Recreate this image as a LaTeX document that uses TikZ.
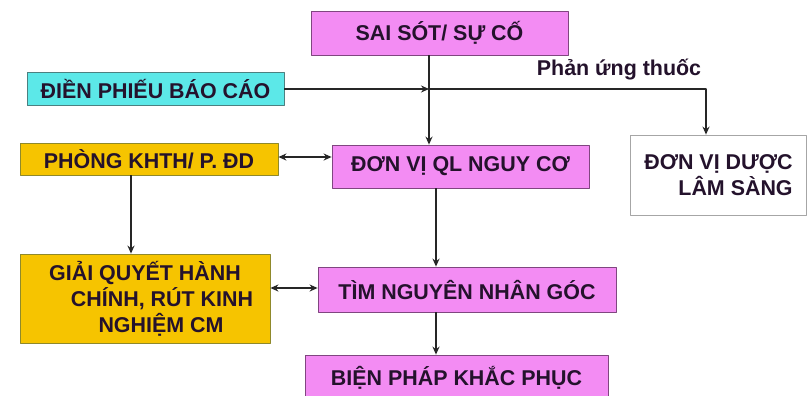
\documentclass[tikz,border=0pt]{standalone}
\usepackage{fontspec}
\setmainfont{Liberation Sans}
\usetikzlibrary{arrows.meta}
\definecolor{hong}{RGB}{243,140,243}
\definecolor{vang}{RGB}{246,196,0}
\definecolor{xanh}{RGB}{92,232,232}
\definecolor{muc}{RGB}{36,18,44}
\begin{document}
\begin{tikzpicture}[x=1bp, y=-1bp, font=\fontsize{21.5}{26}\selectfont\bfseries, line join=round, >={Stealth[length=8bp,width=7bp]},
		box/.style={draw=#1, text=muc, inner sep=0pt, line width=0.8bp},
		hop/.style={box=violet!45!gray, fill=hong},
		hopvang/.style={box=olive!70!gray, fill=vang},
		hopxanh/.style={box=teal!40!gray, fill=xanh},
		hoptrang/.style={box=gray!70, fill=white},
		noi/.style={line width=1.8bp, draw=black!85}]
	\useasboundingbox[fill=white] (0,0) rectangle (807,395);
	\node[hop, minimum width=257bp, minimum height=44bp] (sai) at (439.5,33) {SAI SÓT/ SỰ CỐ};
	\node[hopxanh, minimum width=257bp, minimum height=33bp] (dien) at (155.5,89) {ĐIỀN PHIẾU BÁO CÁO};
	\node[hopvang, minimum width=258bp, minimum height=32bp] (phong) at (149,159) {PHÒNG KHTH/ P. ĐD};
	\node[hop, minimum width=257bp, minimum height=43bp] (ql) at (460.5,166.5) {ĐƠN VỊ QL NGUY CƠ};
	\node[hoptrang, minimum width=176bp, minimum height=80bp, align=right] (duoc) at (718.5,175) {ĐƠN VỊ DƯỢC\\LÂM SÀNG};
	\node[hopvang, minimum width=250bp, minimum height=89bp, align=center] (giai) at (145,298.5) {GIẢI QUYẾT HÀNH\\\hspace*{34bp}CHÍNH, RÚT KINH\\\hspace*{32bp}NGHIỆM CM};
	\node[hop, minimum width=298bp, minimum height=45bp] (tim) at (467,289.5) {TÌM NGUYÊN NHÂN GÓC};
	\node[hop, minimum width=303bp, minimum height=45bp] (bien) at (456.5,377.5) {BIỆN PHÁP KHẮC PHỤC};
	\coordinate (giao) at (429,89);
	\coordinate (goc) at (706,89);
	\draw[noi, ->] (sai.south -| giao) -- (ql.north -| giao);
	\draw[noi, ->] (dien.east) -- (giao);
	\draw[noi, ->] (giao) -- (goc) -- (duoc.north -| goc);
	\node[text=muc] (pu) at (619,70) {Phản ứng thuốc};
	\draw[noi, <->] (phong.east |- 0,157) -- (ql.west |- 0,157);
	\draw[noi, ->] (phong.south -| 131,0) -- (giai.north -| 131,0);
	\draw[noi, <->] (giai.east |- 0,288) -- (tim.west |- 0,288);
	\draw[noi, ->] (ql.south -| 436,0) -- (tim.north -| 436,0);
	\draw[noi, ->] (tim.south -| 436,0) -- (bien.north -| 436,0);
\end{tikzpicture}
\end{document}
